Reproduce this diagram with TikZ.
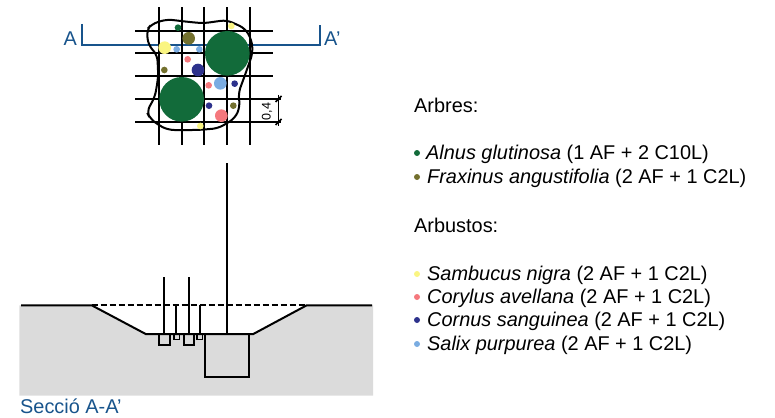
\documentclass[tikz,border=0pt]{standalone}
\usepackage{fontspec}
\setmainfont{Liberation Sans}
\definecolor{dkgreen}{RGB}{18,107,58}
\definecolor{olive2}{RGB}{115,112,46}
\definecolor{yel}{RGB}{250,245,130}
\definecolor{salm}{RGB}{245,120,125}
\definecolor{navy2}{RGB}{45,50,140}
\definecolor{ltblue}{RGB}{122,172,225}
\definecolor{secblue}{RGB}{24,84,140}
\definecolor{soil}{RGB}{219,219,219}
\tikzset{
  gridline/.style={line width=2pt,black},
  outline/.style={line width=2pt,black},
  thinout/.style={line width=2pt,black},
  label/.style={inner sep=0pt,anchor=base west,font=\fontsize{19.9}{22}\selectfont},
  bluetext/.style={label,text=secblue},
  secline/.style={line width=2pt,secblue},
}
\newcommand{\spot}[4]{\fill[#1] ({120+#2/3},{10+#3/3}) circle ({#4/3});}
\begin{document}
\begin{tikzpicture}[x=1pt,y=-1pt]
\useasboundingbox (0,0) rectangle (775,417);
% section line
\draw[secline] (81.7,24) -- (81.7,44.7) -- (320,44.7) -- (320,25);
% plan blob
\draw[outline,rounded corners=6pt] (146.7,30) -- (151.7,24) -- (166.7,19.3) -- (186.7,21.7) -- (203.3,23.3) -- (226.7,20) -- (245,28.3) -- (251.7,40) -- (252.7,53.3) -- (245,75) -- (238.3,93.3) -- (240,106.7) -- (235,118.3) -- (218.3,128.3) -- (198.3,130) -- (168.3,130) -- (158.3,125) -- (150,118.3) -- (146.7,111.7) -- (155,96.7) -- (158.3,76.7) -- (157.3,55) -- (148.3,45) -- cycle;
% grid
\foreach \x in {158.7,181.7,204.3,227,249.7} \draw[gridline] (\x,7.5) -- (\x,145);
\foreach \y in {30.7,53.3,76} \draw[gridline] (135,\y) -- (273,\y);
\foreach \y in {99,122} \draw[gridline] (135,\y) -- (281,\y);
% plants
\spot{dkgreen}{322}{130}{67}
\spot{dkgreen}{185}{268}{67}
\spot{dkgreen}{174}{53}{10}
\spot{olive2}{206}{85}{19}
\spot{olive2}{133}{180}{10}
\spot{olive2}{340}{287}{10}
\spot{yel}{134}{113}{19}
\spot{yel}{334}{48}{10}
\spot{yel}{241}{348}{10}
\spot{ltblue}{170}{118}{10}
\spot{ltblue}{238}{118}{10}
\spot{ltblue}{301}{220}{19}
\spot{salm}{203}{148}{10}
\spot{salm}{266}{226}{10}
\spot{salm}{304}{317}{19}
\spot{navy2}{234}{180}{19}
\spot{navy2}{344}{221}{10}
\spot{navy2}{267}{287}{10}
% dimension
\draw[line width=1.5pt] (278.4,95) -- (278.4,126);
\draw[line width=1.5pt] (275.5,102) -- (281.5,96) (275.5,125) -- (281.5,119);
\node[rotate=90,inner sep=0pt,font=\fontsize{12.5}{15}\selectfont] (dim) at (267,111.5) {0,4};
% section
\fill[soil] (19.3,305.3) -- (91.7,305.3) -- (145.7,334) -- (253.3,334) -- (306.7,305.3) -- (373,305.3) -- (373,395.7) -- (19.3,395.7) -- cycle;
\draw[outline] (21,305.3) -- (91.7,305.3) -- (145.7,334) -- (253.3,334) -- (306.7,305.3) -- (372,305.3);
\draw[outline,dash pattern=on 6pt off 3pt] (91.7,305.3) -- (306.7,305.3);
\draw[thinout] (205.3,334) rectangle (249,377.3);
\draw[thinout] (159,334) rectangle (170.3,345);
\draw[thinout] (183.7,334) rectangle (194.3,345);
\draw[line width=1.6pt] (174,334) rectangle (179.3,339.3);
\draw[line width=1.6pt] (197,334) rectangle (202.3,339.3);
\draw[thinout] (227.3,163) -- (227.3,334);
\draw[thinout] (164.3,277) -- (164.3,334);
\draw[thinout] (189,277) -- (189,334);
\draw[thinout] (176,305.3) -- (176,334);
\draw[thinout] (200,305.3) -- (200,334);
% labels
\node[bluetext] (a1) at (63.5,46) {A};
\node[bluetext] (a2) at (324,46) {A'};
\node[bluetext] (sec) at (20,413) {Secció A-A'};
\node[label] (arb) at (414,113) {Arbres:};
\node[label] (arbu) at (414,232) {Arbustos:};
\fill[dkgreen] (417,153) circle (3);
\node[label] (l1) at (426,159.5) {\textit{Alnus glutinosa} (1 AF + 2 C10L)};
\fill[olive2] (417,177) circle (3);
\node[label] (l2) at (427,183.5) {\textit{Fraxinus angustifolia} (2 AF + 1 C2L)};
\fill[yel] (417,274) circle (3);
\node[label] (l3) at (427,280.5) {\textit{Sambucus nigra} (2 AF + 1 C2L)};
\fill[salm] (417,297) circle (3);
\node[label] (l4) at (427,303.5) {\textit{Corylus avellana} (2 AF + 1 C2L)};
\fill[navy2] (417,320) circle (3);
\node[label] (l5) at (427,326.5) {\textit{Cornus sanguinea} (2 AF + 1 C2L)};
\fill[ltblue] (417,344) circle (3);
\node[label] (l6) at (427,350.5) {\textit{Salix purpurea} (2 AF + 1 C2L)};
\end{tikzpicture}
\end{document}
